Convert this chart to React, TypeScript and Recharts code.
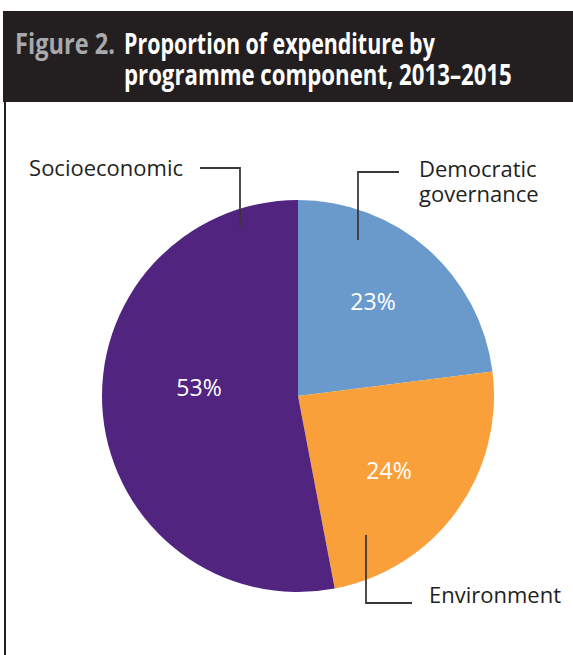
import React, { useLayoutEffect, useRef, useState } from 'react';
import { PieChart, Pie, Cell } from 'recharts';

const categories = ['Democratic governance', 'Environment', 'Socioeconomic'];
const shares = [23, 24, 53];
const shareLabels = ['23%', '24%', '53%'];
const colors = ['#6A9ACB', '#F9A03A', '#51247F'];

const titleLead = 'Figure 2.';
const titleLines = ['Proportion of expenditure by', 'programme component, 2013–2015'];

const chartData = categories.map((name, i) => ({
  name,
  value: shares[i],
  label: shareLabels[i]
}));

const FONT = '"Open Sans", "Noto Sans", sans-serif';
const INK = '#231F20';

// percent label offsets from pie centre
const percentPos: Record<string, [number, number]> = {
  'Democratic governance': [75, -95],
  Environment: [91, 74],
  Socioeconomic: [-99, -9]
};

// callout leader lines + text, relative to pie centre
const callouts: Record<
  string,
  { line: [number, number][]; lines: string[]; x: number; y: number; anchor: 'start' | 'end' }
> = {
  'Democratic governance': {
    line: [[101, -224], [60, -224], [60, -156]],
    lines: ['Democratic', 'governance'],
    x: 121,
    y: -219,
    anchor: 'start'
  },
  Environment: {
    line: [[68, 139], [68, 207], [114, 207]],
    lines: ['Environment'],
    x: 131,
    y: 207,
    anchor: 'start'
  },
  Socioeconomic: {
    line: [[-98, -228], [-58, -228], [-58, -169]],
    lines: ['Socioeconomic'],
    x: -115,
    y: -220,
    anchor: 'end'
  }
};

// condensed title text: squeeze horizontally to the target width
function FitText({ x, y, width, fill, children }: any) {
  const ref = useRef<SVGTextElement>(null);
  const [sx, setSx] = useState(1);
  useLayoutEffect(() => {
    if (ref.current) {
      const w = ref.current.getComputedTextLength();
      if (w > 0) setSx(width / w);
    }
  }, [width]);
  return (
    <text
      ref={ref}
      transform={`translate(${x},${y}) scale(${sx},1)`}
      fill={fill}
      fontSize={29}
      fontWeight={700}
      fontFamily={FONT}
    >
      {children}
    </text>
  );
}

const renderLabel = (props: any) => {
  const { cx, cy, name, payload } = props;
  const [dx, dy] = percentPos[name];
  const c = callouts[name];
  return (
    <g>
      <text
        x={cx + dx}
        y={cy + dy}
        fill="#fff"
        fontSize={23}
        fontFamily={FONT}
        textAnchor="middle"
        dominantBaseline="central"
      >
        {payload.label}
      </text>
      <polyline
        points={c.line.map(([px, py]) => `${cx + px},${cy + py}`).join(' ')}
        fill="none"
        stroke="#3B3838"
        strokeWidth={1.8}
      />
      <text x={cx + c.x} y={cy + c.y} fill={INK} fontSize={22} fontFamily={FONT} textAnchor={c.anchor}>
        {c.lines.map((t, i) => (
          <tspan key={t} x={cx + c.x} dy={i === 0 ? 0 : 25}>
            {t}
          </tspan>
        ))}
      </text>
    </g>
  );
};

export default function App() {
  return (
    <div style={{ position: 'absolute', left: 0, top: 0, width: 573, height: 655, background: '#fff' }}>
      <svg width={573} height={655} style={{ position: 'absolute', left: 0, top: 0 }}>
        <rect x={3} y={11} width={570} height={91} fill={INK} />
        <line x1={5} y1={102} x2={5} y2={655} stroke={INK} strokeWidth={2} />
        <FitText x={15} y={54} width={100} fill="#A7A9AC">
          {titleLead}
        </FitText>
        <FitText x={124} y={54} width={311} fill="#fff">
          {titleLines[0]}
        </FitText>
        <FitText x={124} y={85} width={388} fill="#fff">
          {titleLines[1]}
        </FitText>
      </svg>
      <div style={{ position: 'absolute', left: 0, top: 0 }}>
        <PieChart width={573} height={655} margin={{ top: 0, right: 0, bottom: 0, left: 0 }}>
          <Pie
            data={chartData}
            dataKey="value"
            nameKey="name"
            cx={298}
            cy={396}
            outerRadius={196}
            startAngle={90}
            endAngle={-270}
            stroke="none"
            label={renderLabel}
            labelLine={false}
            isAnimationActive={false}
          >
            {chartData.map((d, i) => (
              <Cell key={d.name} fill={colors[i]} />
            ))}
          </Pie>
        </PieChart>
      </div>
    </div>
  );
}
